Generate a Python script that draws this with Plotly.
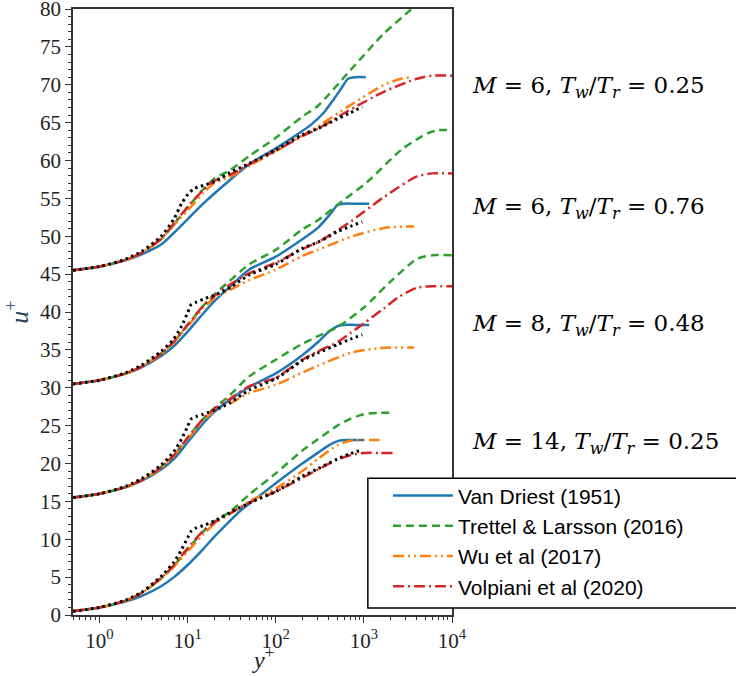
import plotly.graph_objects as go

# --- values (u+ without the vertical shift of each case) ---
offsets = [0, 15, 30, 45]
case_labels = ["<i>M</i> = 14, <i>T</i><sub><i>w</i></sub>/<i>T</i><sub><i>r</i></sub> = 0.25",
               "<i>M</i> = 8, <i>T</i><sub><i>w</i></sub>/<i>T</i><sub><i>r</i></sub> = 0.48",
               "<i>M</i> = 6, <i>T</i><sub><i>w</i></sub>/<i>T</i><sub><i>r</i></sub> = 0.76",
               "<i>M</i> = 6, <i>T</i><sub><i>w</i></sub>/<i>T</i><sub><i>r</i></sub> = 0.25"]
label_u = [22.7, 38.3, 53.7, 69.7]

# M=14, Tw/Tr=0.25
m14_vd_yp = [0.5, 1, 2, 3, 5, 7, 10, 15, 20, 30, 40, 50, 100, 200, 300, 400, 520, 700, 1000]
m14_vd_u = [0.5, 1.0, 1.8, 2.5, 3.8, 5.0, 6.6, 8.7, 10.3, 12.4, 13.8, 14.7, 17.4, 20.0, 21.4, 22.4, 23.0, 23.1, 23.1]
m14_tl_yp = [0.5, 1, 2, 3, 5, 7, 10, 15, 20, 30, 50, 100, 200, 300, 500, 700, 1000, 1500, 2200]
m14_tl_u = [0.5, 1.0, 1.9, 2.9, 4.8, 6.5, 8.7, 11.0, 12.3, 13.6, 15.9, 18.7, 21.7, 23.2, 25.0, 25.9, 26.5, 26.7, 26.7]
m14_wu_yp = [0.5, 1, 2, 3, 5, 7, 10, 15, 20, 30, 50, 100, 200, 300, 500, 700, 1000, 1500]
m14_wu_u = [0.5, 1.0, 1.9, 2.9, 4.8, 6.4, 8.4, 10.6, 12.0, 13.3, 15.0, 16.7, 19.0, 20.6, 22.4, 23.0, 23.1, 23.1]
m14_vo_yp = [0.5, 1, 2, 3, 5, 7, 10, 15, 20, 30, 50, 100, 200, 300, 500, 700, 1000, 1500, 2200]
m14_vo_u = [0.5, 1.0, 1.9, 2.9, 4.9, 6.6, 8.8, 11.1, 12.2, 13.4, 14.8, 16.3, 18.1, 19.2, 20.5, 21.1, 21.4, 21.4, 21.4]
m14_dns_yp = [0.5, 1, 2, 3, 5, 7, 8.5, 10, 11, 12.5, 15, 20, 30, 50, 100, 200, 300, 500, 700, 960]
m14_dns_u = [0.5, 1.0, 2.0, 3.0, 5.1, 7.0, 8.6, 10.2, 11.1, 11.5, 11.8, 12.4, 13.5, 14.8, 16.3, 18.3, 19.3, 20.6, 21.3, 21.8]

# M=8, Tw/Tr=0.48
m8_vd_yp = [0.5, 1, 2, 3, 5, 7, 10, 15, 20, 30, 50, 100, 200, 300, 400, 520, 600, 800, 1150]
m8_vd_u = [0.5, 1.0, 1.9, 2.7, 4.2, 5.6, 7.8, 10.3, 11.8, 13.4, 15.1, 16.9, 19.3, 21.0, 22.4, 23.2, 23.3, 23.3, 23.3]
m8_tl_yp = [0.5, 1, 2, 3, 5, 7, 10, 15, 20, 30, 50, 100, 200, 300, 500, 1000, 2000, 4000, 6000, 10000]
m8_tl_u = [0.5, 1.0, 1.9, 2.8, 4.5, 6.1, 8.4, 10.9, 12.3, 14.0, 16.5, 18.7, 20.8, 21.8, 23.0, 25.6, 29.0, 32.0, 32.5, 32.5]
m8_wu_yp = [0.5, 1, 2, 3, 5, 7, 10, 15, 20, 30, 50, 100, 200, 300, 700, 1400, 2000, 3700]
m8_wu_u = [0.5, 1.0, 1.9, 2.8, 4.4, 6.0, 8.2, 10.6, 11.9, 12.9, 14.3, 15.4, 17.0, 17.9, 19.6, 20.2, 20.3, 20.3]
m8_vo_yp = [0.5, 1, 2, 3, 5, 7, 10, 15, 20, 30, 50, 100, 200, 300, 500, 700, 1000, 1700, 2500, 4000, 6000, 10000]
m8_vo_u = [0.5, 1.0, 1.9, 2.8, 4.5, 6.1, 8.4, 10.9, 12.2, 13.5, 15.2, 16.3, 18.7, 19.8, 21.0, 22.2, 23.5, 25.5, 27.0, 28.2, 28.4, 28.4]
m8_dns_yp = [0.5, 1, 2, 3, 5, 7, 8.5, 10, 11, 12.5, 15, 20, 30, 50, 100, 200, 300, 500, 700, 960]
m8_dns_u = [0.5, 1.0, 2.0, 3.0, 4.8, 6.6, 8.2, 9.9, 10.9, 11.2, 11.5, 12.0, 13.0, 14.7, 16.2, 18.6, 19.6, 20.7, 21.4, 22.0]

# M=6, Tw/Tr=0.76
m6b_vd_yp = [0.5, 1, 2, 3, 5, 7, 10, 15, 20, 30, 50, 100, 200, 300, 420, 500, 600, 800, 1150]
m6b_vd_u = [0.5, 1.0, 1.9, 2.7, 4.2, 5.5, 7.4, 9.8, 11.4, 13.3, 15.6, 17.3, 19.6, 21.1, 23.0, 24.1, 24.3, 24.3, 24.3]
m6b_tl_yp = [0.5, 1, 2, 3, 5, 7, 10, 15, 20, 30, 50, 100, 200, 300, 520, 1100, 2650, 5300, 7000, 10000]
m6b_tl_u = [0.5, 1.0, 1.9, 2.8, 4.5, 6.1, 8.3, 10.8, 12.3, 14.1, 16.3, 18.2, 20.9, 22.1, 24.3, 27.2, 31.4, 33.6, 34.0, 34.0]
m6b_wu_yp = [0.5, 1, 2, 3, 5, 7, 10, 15, 20, 30, 50, 100, 200, 300, 700, 1700, 3700]
m6b_wu_u = [0.5, 1.0, 1.9, 2.8, 4.4, 6.0, 8.1, 10.5, 11.8, 12.9, 14.2, 15.6, 17.4, 18.2, 19.9, 21.1, 21.3]
m6b_vo_yp = [0.5, 1, 2, 3, 5, 7, 10, 15, 20, 30, 50, 100, 200, 300, 700, 1700, 4000, 6000, 10000]
m6b_vo_u = [0.5, 1.0, 1.9, 2.8, 4.5, 6.1, 8.3, 10.8, 12.1, 13.6, 15.1, 16.5, 18.3, 19.2, 21.9, 25.2, 27.9, 28.3, 28.3]
m6b_dns_yp = [0.5, 1, 2, 3, 5, 7, 8.5, 10, 11, 12.5, 15, 20, 30, 50, 100, 200, 300, 500, 700, 960]
m6b_dns_u = [0.5, 1.0, 2.0, 3.0, 4.8, 6.5, 8.1, 9.9, 11.0, 11.3, 11.7, 12.2, 13.2, 14.9, 16.3, 18.4, 19.2, 20.6, 21.3, 21.9]

# M=6, Tw/Tr=0.25
m6a_vd_yp = [0.5, 1, 2, 3, 5, 8.3, 15, 30, 50, 100, 200, 250, 350, 450, 560, 660, 800, 1050]
m6a_vd_u = [0.5, 1.0, 1.85, 2.6, 3.9, 6.3, 9.3, 12.4, 14.5, 16.6, 18.9, 19.7, 21.3, 23.0, 24.6, 25.8, 26.0, 26.0]
m6a_tl_yp = [0.5, 1, 2, 3, 5, 7, 10, 15, 20, 30, 50, 100, 200, 300, 700, 1700, 3400, 4500]
m6a_tl_u = [0.5, 1.0, 1.9, 2.8, 4.6, 6.6, 8.8, 11.2, 12.6, 13.7, 15.6, 18.0, 20.8, 22.2, 26.9, 31.8, 34.9, 36.2]
m6a_wu_yp = [0.5, 1, 2, 3, 5, 7, 10, 15, 20, 30, 50, 100, 200, 300, 700, 1700, 2650, 3400]
m6a_wu_u = [0.5, 1.0, 1.9, 2.8, 4.6, 6.5, 8.4, 10.7, 12.0, 12.8, 14.3, 16.2, 18.3, 19.5, 22.3, 25.0, 25.8, 26.0]
m6a_vo_yp = [0.5, 1, 2, 3, 5, 7, 10, 15, 20, 30, 50, 100, 200, 300, 700, 1700, 4000, 6000, 10000]
m6a_vo_u = [0.5, 1.0, 1.9, 2.8, 4.7, 6.7, 8.9, 11.1, 12.3, 13.1, 14.5, 16.3, 18.2, 19.2, 21.7, 24.1, 25.8, 26.2, 26.2]
m6a_dns_yp = [0.5, 1, 2, 3, 5, 7, 8.5, 10, 11.5, 13, 15, 20, 30, 50, 100, 200, 300, 500, 700, 960]
m6a_dns_u = [0.5, 1.0, 2.0, 3.0, 5.0, 7.3, 9.3, 10.5, 11.2, 11.5, 11.7, 12.2, 13.4, 14.6, 16.4, 18.4, 19.2, 20.5, 21.3, 22.1]

cases = [
    [(m14_vd_yp, m14_vd_u), (m14_tl_yp, m14_tl_u), (m14_wu_yp, m14_wu_u), (m14_vo_yp, m14_vo_u), (m14_dns_yp, m14_dns_u)],
    [(m8_vd_yp, m8_vd_u), (m8_tl_yp, m8_tl_u), (m8_wu_yp, m8_wu_u), (m8_vo_yp, m8_vo_u), (m8_dns_yp, m8_dns_u)],
    [(m6b_vd_yp, m6b_vd_u), (m6b_tl_yp, m6b_tl_u), (m6b_wu_yp, m6b_wu_u), (m6b_vo_yp, m6b_vo_u), (m6b_dns_yp, m6b_dns_u)],
    [(m6a_vd_yp, m6a_vd_u), (m6a_tl_yp, m6a_tl_u), (m6a_wu_yp, m6a_wu_u), (m6a_vo_yp, m6a_vo_u), (m6a_dns_yp, m6a_dns_u)],
]

model_names = ["Van Driest (1951)", "Trettel & Larsson (2016)", "Wu et al (2017)", "Volpiani et al (2020)", "DNS"]
model_colors = ["#1f77b4", "#2ca02c", "#ff7f0e", "#d62728", "black"]
model_dash = ["solid", "8px,5px", "11px,4px,2px,4px,2px,4px", "11px,4px,2px,4px", "2.5px,3.5px"]
model_width = [2.5, 2.5, 2.5, 2.5, 3]

fig = go.Figure()
for ci, curves in enumerate(cases):
    for mi, (yp, u) in enumerate(curves):
        fig.add_trace(go.Scatter(
            x=yp, y=[v + offsets[ci] for v in u], mode="lines",
            name=model_names[mi], legendgroup=model_names[mi],
            showlegend=(ci == 0 and mi < 4),
            line=dict(color=model_colors[mi], dash=model_dash[mi], width=model_width[mi],
                      shape="spline", smoothing=0.7),
        ))

for lab, uy in zip(case_labels, label_u):
    fig.add_annotation(x=1.047, xref="paper", y=uy, yref="y", text=lab, showarrow=False,
                       xanchor="left", yanchor="middle",
                       font=dict(family="DejaVu Serif", size=23, color="black"))

# x axis title placed by hand, below the tick labels
fig.add_annotation(x=0.5, xref="paper", y=-0.0985, yref="paper", text="<i>y</i><sup>+</sup>",
                   showarrow=False, xanchor="center", yanchor="bottom",
                   font=dict(family="Liberation Serif", size=24, color="#222"))

# white legend frame that runs off the right edge like in the original
fig.add_shape(type="rect", xref="paper", yref="paper", x0=0.778, x1=2.0, y0=0.0115, y1=0.2257,
              line=dict(color="black", width=1.5), fillcolor="white", layer="above")

minor_x = [m * 10 ** d for d in range(-1, 4) for m in range(2, 10) if 0.5 <= m * 10 ** d <= 10000]

axis_font = dict(family="Liberation Serif", size=21, color="#222")
fig.update_xaxes(type="log", range=[-0.30103, 4],
                 tickvals=[1, 10, 100, 1000, 10000],
                 ticktext=["10<sup>0</sup>", "10<sup>1</sup>", "10<sup>2</sup>", "10<sup>3</sup>", "10<sup>4</sup>"],
                 ticks="outside", ticklen=6, tickwidth=1.2, tickcolor="#333",
                 minor=dict(tickvals=minor_x, ticks="outside", ticklen=3, tickwidth=1, tickcolor="#333"),
                 showline=True, linecolor="#333", linewidth=1.5, mirror=True,
                 showgrid=False, zeroline=False, tickfont=axis_font, ticklabeloverflow="allow")
fig.update_yaxes(range=[0, 80], dtick=5,
                 ticks="outside", ticklen=6, tickwidth=1.2, tickcolor="#333",
                 minor=dict(dtick=1, ticks="outside", ticklen=3, tickwidth=1, tickcolor="#333"),
                 showline=True, linecolor="#333", linewidth=1.5, mirror=True,
                 showgrid=False, zeroline=False, tickfont=axis_font, ticklabeloverflow="allow",
                 title=dict(text="<i>u</i><sup>+</sup>", font=dict(family="Liberation Serif", size=26), standoff=4))

fig.update_layout(
    width=736, height=676,
    margin=dict(l=73, r=284, t=9, b=61, autoexpand=False),
    paper_bgcolor="white", plot_bgcolor="white",
    legend=dict(x=0.831, xanchor="left", y=0.2306, yanchor="top",
                bgcolor="rgba(0,0,0,0)", borderwidth=0,
                font=dict(family="Liberation Sans", size=21, color="black"),
                tracegroupgap=0, itemwidth=60),
)

fig.write_html("out.html", config={"displayModeBar": False},
               post_script="document.body.style.margin='0';")
